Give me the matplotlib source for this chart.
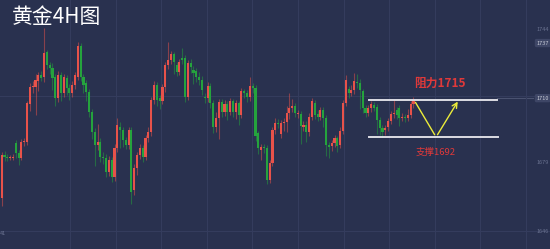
import numpy as np
import matplotlib.pyplot as plt

plt.rcParams['font.family'] = ['Noto Sans CJK SC', 'DejaVu Sans']

# 4H candles (price units)
opens = [1661.6, 1682.5, 1681.6, 1681.1, 1681.2, 1688.4, 1683.5, 1681.1, 1688.9, 1688.9,
         1707.4, 1715.7, 1715.7, 1718.6, 1721.6, 1720.6, 1732.8, 1726.4, 1725.0, 1720.6,
         1710.3, 1721.6, 1712.8, 1720.1, 1715.2, 1712.8, 1716.7, 1720.6, 1735.7, 1720.6,
         1717.6, 1713.3, 1703.5, 1693.8, 1687.4, 1688.9, 1681.6, 1681.1, 1674.2, 1680.1,
         1671.8, 1686.0, 1696.2, 1694.7, 1689.9, 1687.4, 1694.7, 1665.5, 1676.2, 1682.5,
         1686.0, 1681.6, 1690.8, 1693.8, 1709.4, 1716.7, 1710.3, 1708.9, 1715.7, 1726.4,
         1728.9, 1731.8, 1726.4, 1723.0, 1729.9, 1729.9, 1710.8, 1727.4, 1724.0, 1723.5,
         1720.6, 1719.1, 1710.8, 1710.3, 1716.2, 1707.9, 1696.2, 1700.6, 1708.4, 1703.5,
         1707.4, 1703.5, 1708.9, 1703.5, 1707.9, 1702.1, 1713.8, 1712.8, 1710.8, 1716.2,
         1715.2, 1693.3, 1685.0, 1686.0, 1686.0, 1670.3, 1678.6, 1694.7, 1698.2, 1692.8,
         1698.2, 1698.6, 1703.0, 1705.5, 1706.4, 1702.5, 1702.5, 1696.2, 1697.2, 1693.8,
         1701.1, 1707.9, 1702.5, 1701.1, 1704.5, 1700.6, 1687.4, 1686.9, 1688.4, 1690.8,
         1687.4, 1694.3, 1707.9, 1714.7, 1712.8, 1714.2, 1718.1, 1717.6, 1713.8, 1705.5,
         1703.0, 1705.5, 1706.9, 1706.0, 1699.6, 1695.7, 1694.7, 1696.2, 1699.1, 1702.5,
         1704.5, 1705.5, 1700.6, 1701.1, 1700.6, 1702.1, 1707.4]
closes = [1682.5, 1681.6, 1681.1, 1681.2, 1681.6, 1683.5, 1681.1, 1688.9, 1689.4, 1707.9,
          1715.7, 1716.2, 1719.1, 1721.6, 1720.1, 1732.3, 1726.4, 1725.0, 1720.1, 1710.3,
          1721.6, 1712.8, 1720.6, 1715.2, 1712.8, 1716.7, 1721.6, 1735.7, 1720.6, 1716.7,
          1713.3, 1703.5, 1693.8, 1687.4, 1688.9, 1681.6, 1681.1, 1674.2, 1680.1, 1671.8,
          1686.0, 1697.2, 1694.7, 1689.9, 1687.4, 1694.7, 1664.5, 1676.2, 1682.5, 1686.0,
          1681.6, 1690.8, 1693.8, 1709.4, 1716.7, 1709.4, 1708.9, 1715.7, 1726.4, 1728.9,
          1731.8, 1727.9, 1723.0, 1727.9, 1728.9, 1710.8, 1727.4, 1725.5, 1722.5, 1720.6,
          1719.1, 1714.2, 1710.3, 1716.2, 1707.9, 1696.2, 1700.6, 1708.4, 1703.5, 1707.4,
          1703.5, 1708.9, 1703.5, 1707.9, 1702.1, 1713.8, 1712.8, 1710.8, 1716.2, 1715.2,
          1691.8, 1686.0, 1686.4, 1685.8, 1670.3, 1678.6, 1694.7, 1698.2, 1697.7, 1698.2,
          1698.6, 1703.0, 1705.5, 1706.4, 1703.0, 1702.7, 1696.7, 1697.2, 1693.8, 1701.1,
          1708.9, 1702.1, 1701.1, 1704.5, 1700.6, 1687.4, 1686.4, 1688.4, 1690.8, 1686.9,
          1694.3, 1707.9, 1719.1, 1712.8, 1714.2, 1718.6, 1717.6, 1714.2, 1705.5, 1703.0,
          1705.5, 1707.4, 1705.5, 1699.6, 1695.7, 1693.8, 1695.7, 1699.1, 1702.5, 1703.0,
          1702.1, 1700.6, 1701.1, 1700.6, 1702.1, 1707.4, 1709.4]
highs = [1684.0, 1684.5, 1683.0, 1682.6, 1683.2, 1690.0, 1685.0, 1690.5, 1691.0, 1709.0,
         1717.5, 1718.5, 1722.0, 1723.0, 1723.5, 1744.5, 1734.0, 1728.0, 1727.5, 1722.0,
         1723.5, 1723.0, 1722.0, 1721.5, 1717.0, 1718.5, 1723.0, 1737.5, 1737.0, 1722.0,
         1719.0, 1715.0, 1705.0, 1695.5, 1697.5, 1691.0, 1684.0, 1683.0, 1682.0, 1681.5,
         1688.0, 1700.5, 1698.5, 1696.0, 1691.5, 1696.0, 1696.0, 1678.0, 1684.0, 1688.0,
         1687.5, 1692.5, 1696.0, 1711.0, 1718.5, 1718.0, 1712.0, 1717.0, 1728.0, 1737.5,
         1733.5, 1733.0, 1728.0, 1729.5, 1735.0, 1731.5, 1729.0, 1729.5, 1726.0, 1725.0,
         1723.0, 1721.0, 1713.0, 1718.0, 1717.5, 1709.5, 1703.5, 1710.0, 1710.0, 1709.5,
         1709.0, 1710.5, 1710.0, 1709.5, 1709.0, 1715.5, 1715.0, 1714.5, 1720.5, 1717.5,
         1716.5, 1694.5, 1688.0, 1688.0, 1687.5, 1680.0, 1696.0, 1700.5, 1700.0, 1699.5,
         1700.5, 1706.5, 1713.0, 1710.0, 1708.0, 1704.5, 1704.0, 1699.0, 1699.0, 1703.0,
         1710.5, 1709.5, 1704.5, 1706.0, 1706.0, 1702.0, 1689.0, 1690.0, 1692.5, 1692.0,
         1696.0, 1709.5, 1721.5, 1716.0, 1716.5, 1722.5, 1722.0, 1719.5, 1715.0, 1707.0,
         1707.0, 1709.0, 1708.5, 1707.5, 1701.0, 1697.0, 1697.0, 1700.5, 1704.0, 1709.5,
         1706.0, 1707.0, 1703.0, 1702.5, 1705.0, 1709.0, 1711.0]
lows = [1657.5, 1679.8, 1679.5, 1679.9, 1680.0, 1681.0, 1677.5, 1680.0, 1687.0, 1687.5,
        1704.0, 1713.0, 1702.0, 1714.0, 1718.5, 1718.0, 1724.5, 1722.0, 1714.5, 1706.5,
        1708.5, 1709.0, 1711.0, 1712.0, 1709.5, 1711.0, 1715.0, 1719.0, 1718.5, 1713.0,
        1709.0, 1701.0, 1690.5, 1677.0, 1685.0, 1679.0, 1678.0, 1672.0, 1672.5, 1669.5,
        1670.0, 1684.0, 1686.0, 1686.5, 1685.5, 1685.5, 1658.5, 1663.0, 1673.0, 1680.5,
        1679.0, 1680.0, 1689.0, 1692.0, 1707.5, 1706.5, 1705.0, 1707.5, 1713.5, 1724.5,
        1727.0, 1722.0, 1721.0, 1721.5, 1727.0, 1708.5, 1709.5, 1722.5, 1717.0, 1718.0,
        1716.5, 1712.0, 1708.0, 1708.5, 1705.5, 1693.5, 1694.0, 1690.5, 1701.0, 1701.5,
        1699.5, 1702.0, 1701.0, 1700.0, 1697.0, 1700.5, 1710.5, 1708.5, 1709.0, 1713.0,
        1689.5, 1683.0, 1680.0, 1683.5, 1668.5, 1669.0, 1677.0, 1693.0, 1695.5, 1691.0,
        1694.5, 1694.0, 1700.0, 1703.5, 1701.0, 1700.5, 1688.0, 1694.5, 1689.0, 1692.0,
        1699.5, 1700.0, 1699.0, 1699.5, 1696.0, 1682.0, 1681.0, 1684.5, 1686.5, 1684.0,
        1686.0, 1693.0, 1706.5, 1710.5, 1711.5, 1712.5, 1715.5, 1705.0, 1703.0, 1701.0,
        1701.5, 1703.5, 1704.0, 1693.0, 1692.5, 1691.5, 1692.5, 1694.5, 1697.5, 1700.5,
        1700.0, 1696.5, 1699.0, 1698.5, 1699.0, 1700.5, 1705.5]

resistance = 1709.4
support = 1691.3
resistance_label = "阻力1715"
support_label = "支撑1692"
title = "黄金4H图"
axis_labels = ["1744", "1679", "1646"]
axis_label_prices = [1744.0, 1679.0, 1645.0]
high_tag = ("1737", 1737.2)
last_tag = ("1710", 1710.3)

bg = '#29314f'
up_col = '#e8524a'
dn_col = '#25a33d'

fig = plt.figure(figsize=(5.5, 2.49), dpi=100)
fig.patch.set_facecolor(bg)
ax = fig.add_axes([0, 0, 1, 1])
ax.set_facecolor(bg)

n = len(opens)
x = np.arange(n)
o = np.array(opens)
c = np.array(closes)
cols = [up_col if cc >= oo else dn_col for oo, cc in zip(o, c)]
ax.vlines(x, lows, highs, colors=cols, linewidth=0.8, alpha=0.5, zorder=2)
h = c - o
h = np.where(np.abs(h) < 0.5, 0.5, h)
ax.bar(x, h, bottom=o, width=0.75, color=cols, linewidth=0, zorder=3)

ax.set_xlim(-0.6, 194.4)
ax.set_ylim(1636.7, 1758.2)

# grid
ax.set_xticks([24.2 + 16.17 * k for k in range(11)])
ax.set_yticks([1645.5, 1711.5])
ax.grid(True, color='#343c5d', linewidth=0.8)
ax.tick_params(length=0, labelbottom=False, labelleft=False)
for s in ax.spines.values():
    s.set_visible(False)

# support / resistance channel
ax.plot([130.2, 175.6], [resistance, resistance], color='#dcdce4', lw=1.4, zorder=4)
ax.plot([130.2, 175.9], [support, support], color='#dcdce4', lw=1.4, zorder=4)
ax.plot([175.6, 188.5], [last_tag[1], last_tag[1]], color='#4a5270', lw=0.8, zorder=1)

# projected path
ax.annotate('', xy=(154.0, support), xytext=(146.2, resistance),
            arrowprops=dict(arrowstyle='-', color='#ecec3a', lw=1.0), zorder=5)
ax.annotate('', xy=(162.2, resistance + 0.4), xytext=(154.0, support),
            arrowprops=dict(arrowstyle='->', color='#ecec3a', lw=1.0, mutation_scale=9), zorder=5)

ax.text(155.4, 1717.6, resistance_label, color='#e0393a', fontsize=8.5, fontweight='bold',
        ha='center', va='center')
ax.text(154.0, 1684.0, support_label, color='#e0393a', fontsize=6.8,
        ha='center', va='center')

ax.text(0.022, 0.93, title, transform=ax.transAxes, color='white', fontsize=15,
        ha='left', va='center')

# right price scale
for lab, p in zip(axis_labels, axis_label_prices):
    ax.text(189.8, p, lab, color='#6a7290', fontsize=4, ha='left', va='center')
for lab, p in [high_tag, last_tag]:
    ax.text(189.6, p, lab, color='#c8ccd8', fontsize=4, ha='left', va='center',
            bbox=dict(boxstyle='round,pad=0.3', fc='#3e4666', ec='none'))
ax.text(-0.6, 1644.5, "41", color='#6a7290', fontsize=4, ha='left', va='center')

fig.savefig('out.png', dpi=100, facecolor=bg)
